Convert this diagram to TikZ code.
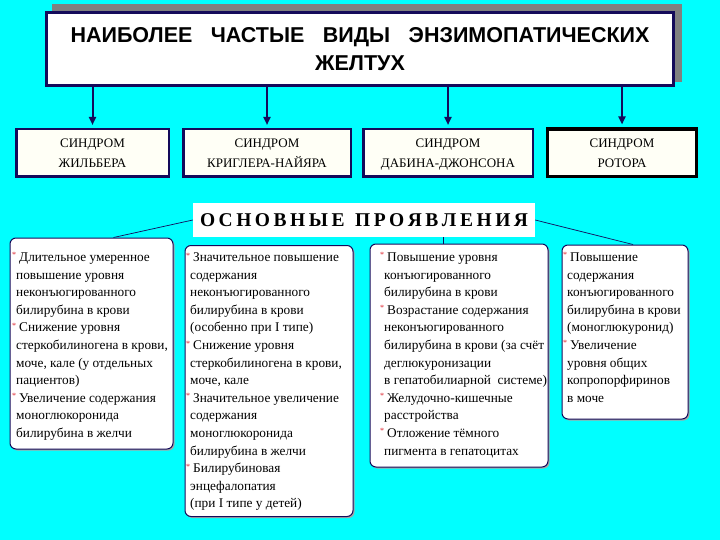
\documentclass[tikz,border=0pt]{standalone}
\usepackage{fontspec}
\setmainfont{Liberation Serif}
\newfontfamily\titlefont{Liberation Sans}
\usetikzlibrary{arrows.meta,shadows}
\definecolor{bgcyan}{RGB}{0,255,255}
\definecolor{navyb}{RGB}{20,10,90}
\definecolor{shadowgrey}{RGB}{128,128,128}
\definecolor{starred}{RGB}{220,30,40}
\definecolor{cream}{RGB}{255,255,246}
\newcommand{\st}{\llap{\textcolor{starred}{\raisebox{3.5pt}{\fontsize{8}{8}\selectfont *}}}\hspace{3pt}}
\newcommand{\nodp}[1]{\raisebox{0pt}[\height][0pt]{#1}}
\begin{document}
\begin{tikzpicture}[x=1pt,y=-1pt,
 titlebox/.style={draw=navyb, line width=3pt, fill=white, minimum width=627pt, minimum height=73pt, inner sep=0pt, align=center, font=\titlefont\bfseries\fontsize{21.5}{28}\selectfont},
 syn/.style={draw=navyb, line width=2.5pt, fill=cream, minimum height=47.5pt, inner sep=0pt, align=center, font=\fontsize{13}{20}\selectfont},
 arr/.style={draw=navyb, line width=2pt, -{Triangle[width=7pt,length=8pt]}},
 osnbox/.style={fill=white, minimum width=342pt, minimum height=34pt, inner sep=0pt, font=\bfseries\fontsize{19.5}{20}\selectfont},
 card/.style={draw=navyb, line width=1pt, fill=white, rounded corners=6pt, inner sep=0pt, drop shadow={shadow xshift=1.5pt, shadow yshift=-1.5pt, fill=gray!70, opacity=1}},
 coltext/.style={anchor=north west, inner sep=0pt, align=left, font=\fontsize{13.3}{17.6}\selectfont},
 link/.style={draw=navyb, line width=0.7pt}
]
\fill[bgcyan] (0,0) rectangle (720,540);
\useasboundingbox (0,0) rectangle (720,540);

% title with grey shadow
\fill[shadowgrey] (52,4) rectangle (682,82);
\node[titlebox] (title) at (360,49) {\hbox to 579pt{НАИБОЛЕЕ\hfill ЧАСТЫЕ\hfill ВИДЫ\hfill ЭНЗИМОПАТИЧЕСКИХ}\\ЖЕЛТУХ};

% syndromes
\node[syn, minimum width=152.5pt] (s1) at (92.5,153) {\nodp{СИНДРОМ}\\\nodp{ЖИЛЬБЕРА}};
\node[syn, minimum width=167.5pt] (s2) at (267,153) {\nodp{СИНДРОМ}\\\nodp{КРИГЛЕРА-НАЙЯРА}};
\node[syn, minimum width=169.5pt] (s3) at (448,153) {\nodp{СИНДРОМ}\\\nodp{ДАБИНА-ДЖОНСОНА}};
\node[syn, draw=black, line width=3.5pt, minimum width=149pt] (s4) at (622,153) {\nodp{СИНДРОМ}\\\nodp{РОТОРА}};

\foreach \s in {s1,s2,s3,s4}
  \draw[arr] (title.south -| \s.north) -- ([yshift=3pt]\s.north);

% main manifestations
\node[osnbox] (osn) at (364,220) {\hbox to 328pt{О\hfill С\hfill Н\hfill О\hfill В\hfill Н\hfill Ы\hfill Е\hfill\hfill\hfill П\hfill Р\hfill О\hfill Я\hfill В\hfill Л\hfill Е\hfill Н\hfill И\hfill Я}};

% cards
\node[card, minimum width=163pt, minimum height=211pt] (b1) at (91.5,343.5) {};
\node[card, minimum width=168pt, minimum height=271pt] (b2) at (269,381) {};
\node[card, minimum width=178pt, minimum height=223pt] (b3) at (459,355.5) {};
\node[card, minimum width=126pt, minimum height=174pt] (b4) at (625,332) {};

\draw[link] (osn.west) -- ([xshift=22pt]b1.north);
\draw[link] (osn.east) -- ([xshift=8pt]b4.north);
\draw[link] ([xshift=79pt]osn.south) -- ([xshift=79pt]osn.south |- b3.north);

\node[coltext] (t1) at (16,252.5) {\st Длительное умеренное\\
повышение уровня\\
неконъюгированного\\
билирубина в крови\\
\st Снижение уровня\\
стеркобилиногена в крови,\\
моче, кале (у отдельных\\
пациентов)\\
\st Увеличение содержания\\
моноглюкоронида\\
билирубина в желчи};

\node[coltext] (t2) at (190,252.5) {\st Значительное повышение\\
содержания\\
неконъюгированного\\
билирубина в крови\\
(особенно при I типе)\\
\st Снижение уровня\\
стеркобилиногена в крови,\\
моче, кале\\
\st Значительное увеличение\\
содержания\\
моноглюкоронида\\
билирубина в желчи\\
\st Билирубиновая\\
энцефалопатия\\
(при I типе у детей)};

\node[coltext] (t3) at (384,252.5) {\st Повышение уровня\\
конъюгированного\\
билирубина в крови\\
\st Возрастание содержания\\
неконъюгированного\\
билирубина в крови (за счёт\\
деглюкуронизации\\
в гепатобилиарной\ \ системе)\\
\st Желудочно-кишечные\\
расстройства\\
\st Отложение тёмного\\
пигмента в гепатоцитах};

\node[coltext] (t4) at (567,252.5) {\st Повышение\\
содержания\\
конъюгированного\\
билирубина в крови\\
(моноглюкуронид)\\
\st Увеличение\\
уровня общих\\
копропорфиринов\\
в моче};
\end{tikzpicture}
\end{document}
